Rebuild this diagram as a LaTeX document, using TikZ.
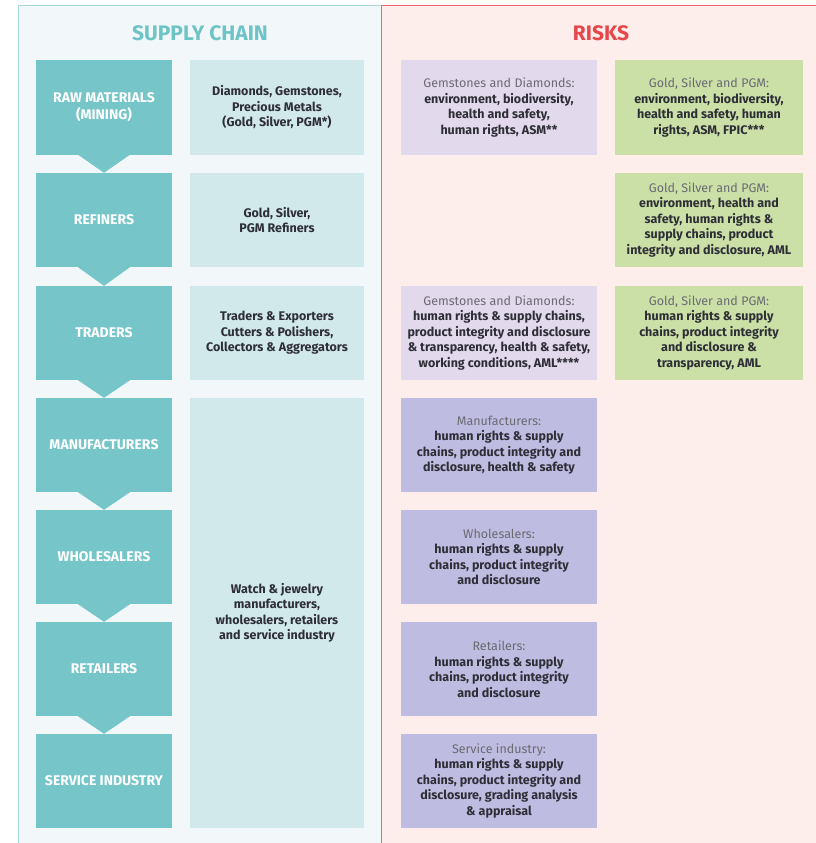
\documentclass[tikz,border=0pt]{standalone}
\usepackage{fontspec}
\setmainfont{Fira Sans}
\usetikzlibrary{positioning}

\definecolor{chaindark}{HTML}{76C6C9}
\definecolor{chainlight}{HTML}{D1E9EA}
\definecolor{leftbg}{HTML}{F2F8F9}
\definecolor{leftline}{HTML}{A9D9DB}
\definecolor{rightbg}{HTML}{FDEEEB}
\definecolor{rightline}{HTML}{EA6B6E}
\definecolor{gemcol}{HTML}{E3D9ED}
\definecolor{goldcol}{HTML}{CBE0A7}
\definecolor{tradecol}{HTML}{BFBCE2}
\definecolor{darktxt}{HTML}{2E2E36}
\definecolor{litetxt}{HTML}{6A6A72}
\definecolor{chaintitle}{HTML}{6EC3C7}
\definecolor{risktitle}{HTML}{E5474B}

\newcommand\lite{\mdseries\color{litetxt}}

\begin{document}
\begin{tikzpicture}[x=1pt,y=-1pt,
  stage/.style={fill=chaindark,text=white,font=\bfseries\fontsize{14}{17}\selectfont,
    minimum width=136pt,minimum height=94pt,align=center,inner sep=0pt},
  actor/.style={fill=chainlight,text=darktxt,font=\bfseries\fontsize{12.5}{15.5}\selectfont,
    minimum width=174pt,minimum height=94pt,align=center,inner sep=0pt},
  risk/.style={text=darktxt,font=\bfseries\fontsize{12.5}{15.5}\selectfont,
    minimum height=94pt,align=center,inner sep=0pt},
  gem/.style={risk,fill=gemcol,minimum width=196pt},
  gold/.style={risk,fill=goldcol,minimum width=188pt},
  trade/.style={risk,fill=tradecol,minimum width=196pt},
  title/.style={font=\bfseries\fontsize{21}{24}\selectfont}]
   \useasboundingbox (0,0) rectangle (815,843);
   \fill[leftbg] (18,6) rectangle (381,850);
   \draw[leftline,line width=1pt] (18,850) -- (18,6) -- (381,6);
   \fill[rightbg] (381,6) rectangle (820,850);
   \draw[rightline,line width=1pt] (381,850) -- (381,6) -- (820,6);

   \node[title,text=chaintitle] (sctitle) at (200,33) {SUPPLY CHAIN};
   \node[title,text=risktitle] (rktitle) at (601,33) {RISKS};

   \node[stage] (raw) at (104,107.5) {RAW MATERIALS\\(MINING)};
   \node[stage] (ref) at (104,220) {REFINERS};
   \node[stage] (trd) at (104,333) {TRADERS};
   \node[stage] (man) at (104,445) {MANUFACTURERS};
   \node[stage] (whs) at (104,557) {WHOLESALERS};
   \node[stage] (ret) at (104,669) {RETAILERS};
   \node[stage] (srv) at (104,781) {SERVICE INDUSTRY};
   \foreach \a/\b in {raw/ref,ref/trd,trd/man,man/whs,whs/ret,ret/srv}
     \fill[chaindark] ([xshift=-26pt]\a.south) -- ([xshift=26pt]\a.south) -- (\b.north) -- cycle;

   \node[actor] (mined) at (277,107.5) {Diamonds, Gemstones,\\Precious Metals\\(Gold, Silver, PGM*)};
   \node[actor] (refined) at (277,220) {Gold, Silver,\\PGM Refiners};
   \node[actor] (traded) at (277,333) {Traders \& Exporters\\Cutters \& Polishers,\\Collectors \& Aggregators};
   \node[actor,minimum height=430pt] (retail) at (277,613) {Watch \& jewelry\\manufacturers,\\wholesalers, retailers\\and service industry};

   \node[gem] (gemraw) at (499,107.5) {{\lite Gemstones and Diamonds:}\\environment, biodiversity,\\health and safety,\\human rights, ASM**};
   \node[gold] (goldraw) at (709,107.5) {{\lite Gold, Silver and PGM:}\\environment, biodiversity,\\health and safety, human\\rights, ASM, FPIC***};
   \node[gold] (goldref) at (709,220) {{\lite Gold, Silver and PGM:}\\environment, health and\\safety, human rights \&\\supply chains, product\\integrity and disclosure, AML};
   \node[gem] (gemtrd) at (499,333) {{\lite Gemstones and Diamonds:}\\human rights \& supply chains,\\product integrity and disclosure\\\& transparency, health \& safety,\\working conditions, AML****};
   \node[gold] (goldtrd) at (709,333) {{\lite Gold, Silver and PGM:}\\human rights \& supply\\chains, product integrity\\and disclosure \&\\transparency, AML};
   \node[trade] (riskman) at (499,445) {{\lite Manufacturers:}\\human rights \& supply\\chains, product integrity and\\disclosure, health \& safety};
   \node[trade] (riskwhs) at (499,557) {{\lite Wholesalers:}\\human rights \& supply\\chains, product integrity\\and disclosure};
   \node[trade] (riskret) at (499,669) {{\lite Retailers:}\\human rights \& supply\\chains, product integrity\\and disclosure};
   \node[trade] (risksrv) at (499,781) {{\lite Service industry:}\\human rights \& supply\\chains, product integrity and\\disclosure, grading analysis\\\& appraisal};
  \end{tikzpicture}
\end{document}
